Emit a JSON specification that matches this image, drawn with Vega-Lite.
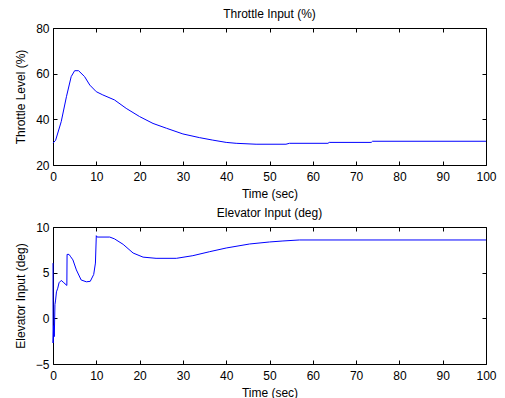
{
  "$schema": "https://vega.github.io/schema/vega-lite/v6.json",
  "padding": {"left": 13, "top": 7, "right": 5, "bottom": 2},
  "spacing": 6,
  "background": "white",
  "datasets": {
    "throttle": [
      {"t": 0, "v": 29.6}, {"t": 0.6, "v": 30.8}, {"t": 1.9, "v": 39}, {"t": 3.1, "v": 49.9},
      {"t": 4.2, "v": 58.7}, {"t": 5.0, "v": 61.3}, {"t": 5.9, "v": 61.3}, {"t": 7.3, "v": 58.7},
      {"t": 8.5, "v": 55}, {"t": 10, "v": 52.1}, {"t": 11.5, "v": 50.7}, {"t": 14.2, "v": 48.5},
      {"t": 16.9, "v": 44.8}, {"t": 20, "v": 41.2}, {"t": 23.1, "v": 38.2}, {"t": 26.2, "v": 36.1},
      {"t": 30, "v": 33.6}, {"t": 33.8, "v": 32}, {"t": 36.9, "v": 30.9}, {"t": 40, "v": 29.9},
      {"t": 42.3, "v": 29.5}, {"t": 46.9, "v": 29.1}, {"t": 53.8, "v": 29.1}, {"t": 54.6, "v": 29.5},
      {"t": 63.5, "v": 29.5}, {"t": 63.8, "v": 29.9}, {"t": 73.5, "v": 29.9}, {"t": 73.8, "v": 30.4},
      {"t": 100, "v": 30.4}
    ],
    "elevator": [
      {"t": 0, "v": 6.05}, {"t": 0.02, "v": -2.7}, {"t": 0.15, "v": -0.8}, {"t": 0.3, "v": -2},
      {"t": 0.45, "v": 1.5}, {"t": 0.6, "v": 2.0}, {"t": 0.8, "v": 2.9}, {"t": 1.1, "v": 3.3},
      {"t": 1.4, "v": 3.9}, {"t": 1.9, "v": 4.15}, {"t": 2.5, "v": 3.9}, {"t": 3.2, "v": 3.6},
      {"t": 3.25, "v": 7.0}, {"t": 3.7, "v": 7.0}, {"t": 4.0, "v": 6.8}, {"t": 4.6, "v": 6.4},
      {"t": 5.4, "v": 5.3}, {"t": 6.5, "v": 4.2}, {"t": 7.7, "v": 4.0}, {"t": 8.6, "v": 4.05},
      {"t": 9.4, "v": 4.8}, {"t": 9.8, "v": 6.05}, {"t": 10.0, "v": 9.05}, {"t": 10.2, "v": 8.9},
      {"t": 13.1, "v": 8.9}, {"t": 14.2, "v": 8.7}, {"t": 16.2, "v": 8.1}, {"t": 18.5, "v": 7.15},
      {"t": 20.8, "v": 6.7}, {"t": 23.8, "v": 6.57}, {"t": 28.5, "v": 6.57}, {"t": 32.3, "v": 6.86},
      {"t": 36.2, "v": 7.3}, {"t": 40, "v": 7.7}, {"t": 45.4, "v": 8.14}, {"t": 50, "v": 8.36},
      {"t": 53.1, "v": 8.47}, {"t": 56.9, "v": 8.58}, {"t": 100, "v": 8.58}
    ]
  },
  "vconcat": [
    {
      "width": 433,
      "height": 137,
      "title": {"text": "Throttle Input (%)"},
      "data": {"name": "throttle"},
      "layer": [
        {
          "mark": {"type": "line", "color": "#0000ff", "strokeWidth": 1},
          "encoding": {
            "x": {"field": "t", "type": "quantitative", "scale": {"domain": [0, 100], "nice": false},
                  "axis": {"title": "Time (sec)", "values": [0,10,20,30,40,50,60,70,80,90,100]}},
            "y": {"field": "v", "type": "quantitative", "scale": {"domain": [20, 80], "nice": false, "zero": false},
                  "axis": {"title": "Throttle Level (%)", "values": [20,40,60,80]}}
          }
        },
        {
          "mark": {"type": "line", "strokeOpacity": 0},
          "encoding": {
            "x": {"field": "t", "type": "quantitative",
                  "axis": {"orient": "top", "labels": false, "title": null, "values": [0,10,20,30,40,50,60,70,80,90,100]}},
            "y": {"field": "v", "type": "quantitative",
                  "axis": {"orient": "right", "labels": false, "title": null, "values": [20,40,60,80]}}
          }
        }
      ],
      "resolve": {"axis": {"x": "independent", "y": "independent"}}
    },
    {
      "width": 433,
      "height": 137,
      "title": {"text": "Elevator Input (deg)"},
      "data": {"name": "elevator"},
      "layer": [
        {
          "mark": {"type": "line", "color": "#0000ff", "strokeWidth": 1},
          "encoding": {
            "x": {"field": "t", "type": "quantitative", "scale": {"domain": [0, 100], "nice": false},
                  "axis": {"title": "Time (sec)", "values": [0,10,20,30,40,50,60,70,80,90,100]}},
            "y": {"field": "v", "type": "quantitative", "scale": {"domain": [-5, 10], "nice": false, "zero": false},
                  "axis": {"title": "Elevator Input (deg)", "values": [-5,0,5,10]}}
          }
        },
        {
          "mark": {"type": "line", "strokeOpacity": 0},
          "encoding": {
            "x": {"field": "t", "type": "quantitative",
                  "axis": {"orient": "top", "labels": false, "title": null, "values": [0,10,20,30,40,50,60,70,80,90,100]}},
            "y": {"field": "v", "type": "quantitative",
                  "axis": {"orient": "right", "labels": false, "title": null, "values": [-5,0,5,10]}}
          }
        }
      ],
      "resolve": {"axis": {"x": "independent", "y": "independent"}}
    }
  ],
  "config": {
    "font": "Liberation Sans",
    "view": {"stroke": "#000000", "strokeWidth": 1},
    "axis": {
      "grid": false,
      "domain": false,
      "ticks": true,
      "tickSize": -4,
      "tickColor": "#000000",
      "labelFont": "Liberation Sans",
      "labelFontSize": 12,
      "labelColor": "#000000",
      "titleFont": "Liberation Sans",
      "titleFontSize": 12,
      "titleFontWeight": "normal",
      "titleColor": "#000000"
    },
    "axisX": {"labelFlush": false, "labelPadding": 10, "titlePadding": 6},
    "axisY": {"labelFlush": false, "labelPadding": 8, "titlePadding": 8},
    "title": {"font": "Liberation Sans", "fontSize": 12, "fontWeight": "normal", "color": "#000000", "offset": 1}
  }
}
